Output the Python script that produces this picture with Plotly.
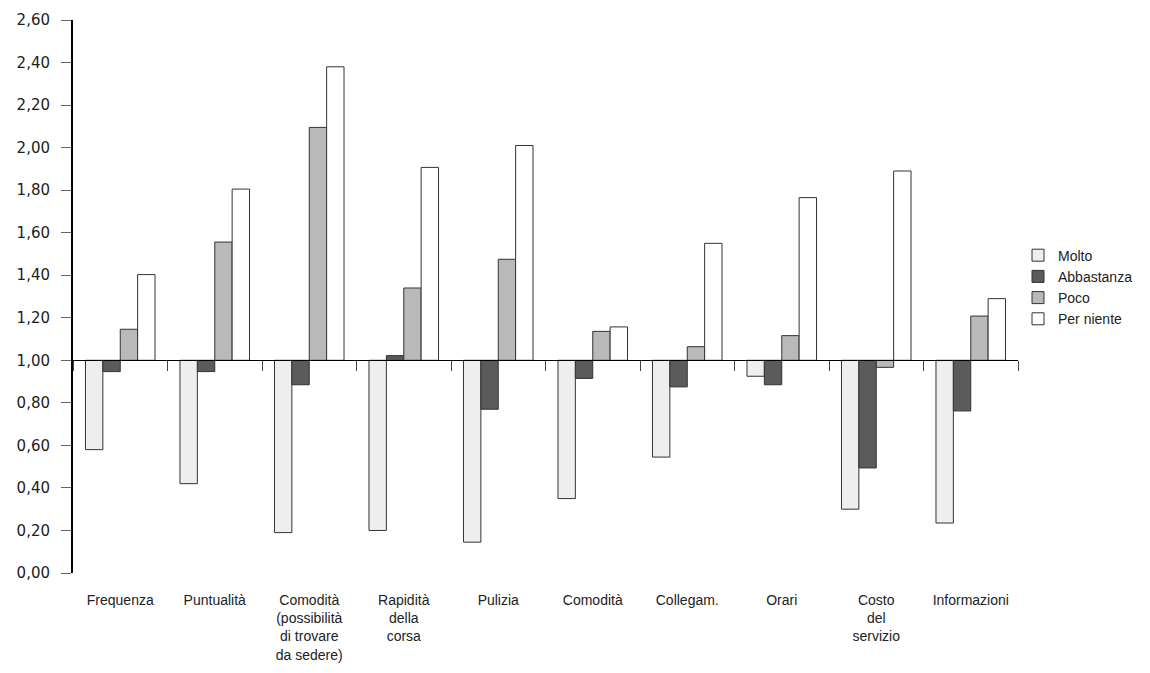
import plotly.graph_objects as go

categories = ["Frequenza", "Puntualità", "Comodità<br>(possibilità<br>di trovare<br>da sedere)",
              "Rapidità<br>della<br>corsa", "Pulizia", "Comodità", "Collegam.", "Orari",
              "Costo<br>del<br>servizio", "Informazioni"]
molto = [0.58, 0.42, 0.19, 0.20, 0.145, 0.35, 0.545, 0.925, 0.30, 0.235]
abbastanza = [0.947, 0.947, 0.885, 1.022, 0.77, 0.915, 0.875, 0.885, 0.494, 0.762]
poco = [1.146, 1.556, 2.095, 1.34, 1.475, 1.136, 1.064, 1.116, 0.967, 1.208]
per_niente = [1.403, 1.805, 2.38, 1.907, 2.01, 1.157, 1.55, 1.765, 1.89, 1.29]
baseline = 1.0
y_ticks = [i * 0.2 for i in range(14)]

series = [("Molto", molto, "#eeeeee"), ("Abbastanza", abbastanza, "#5b5b5b"),
          ("Poco", poco, "#b9b9b9"), ("Per niente", per_niente, "#ffffff")]

fig = go.Figure()
for name, vals, col in series:
    fig.add_trace(go.Bar(
        name=name, x=categories, y=[v - baseline for v in vals], base=[baseline] * len(vals),
        marker=dict(color=col, line=dict(color="#333333", width=1)),
        xaxis="x2", yaxis="y"))

# invisible trace for the label axis
fig.add_trace(go.Scatter(x=categories, y=[baseline] * len(categories), mode="none",
                         showlegend=False, hoverinfo="skip", xaxis="x", yaxis="y"))

narrow = "Liberation Sans Narrow, Arial Narrow, Liberation Sans, sans-serif"
fig.update_layout(
    width=1142, height=665,
    margin=dict(l=65, r=132, t=12, b=100),
    paper_bgcolor="white", plot_bgcolor="white",
    separators=",.",
    barmode="group", bargap=0.264, bargroupgap=0,
    showlegend=True,
    legend=dict(x=1.0, y=0.517, xanchor="left", yanchor="middle",
                font=dict(family=narrow, size=14, color="#222"),
                tracegroupgap=4, itemwidth=30),
    xaxis=dict(categoryorder="array", categoryarray=categories, range=[-0.5, 9.5],
               showline=False, ticks="", showgrid=False, zeroline=False,
               tickfont=dict(family=narrow, size=14, color="#222"),
               ticklabelstandoff=17, automargin=False,
               anchor="y", side="bottom"),
    xaxis2=dict(matches="x", overlaying="x", anchor="free", position=1 / 2.6,
                categoryorder="array", categoryarray=categories, range=[-0.5, 9.5],
                showline=True, linecolor="#000", linewidth=1,
                ticks="outside", tickson="boundaries", ticklen=10, tickcolor="#444",
                showticklabels=False, showgrid=False, zeroline=False, automargin=False),
    yaxis=dict(range=[0, 2.6], tickvals=y_ticks, tickformat=".2f",
               showline=True, linecolor="#000", linewidth=2,
               ticks="outside", ticklen=10, tickcolor="#666", tickwidth=1,
               ticklabelstandoff=8, automargin=False,
               showgrid=False, zeroline=False,
               tickfont=dict(family="DejaVu Sans, Verdana, sans-serif", size=15, color="#222")),
)
fig.write_html("out.html")
